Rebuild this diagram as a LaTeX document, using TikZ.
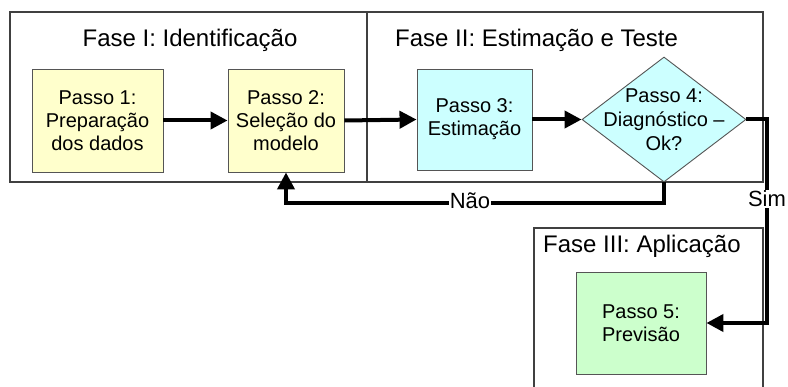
\documentclass[tikz,border=0pt]{standalone}
\usepackage{fontspec}
\setmainfont{Liberation Sans}
\usetikzlibrary{arrows.meta,shapes.geometric}
\definecolor{boxyellow}{HTML}{FFFFCC}
\definecolor{boxcyan}{HTML}{CCFFFF}
\definecolor{boxgreen}{HTML}{CCFFCC}
\definecolor{frameline}{HTML}{404040}
\definecolor{boxline}{HTML}{555555}
\tikzset{
  phaseframe/.style={draw=frameline, line width=1.1pt},
  phasetitle/.style={font=\fontsize{24}{28}\selectfont, inner sep=0pt},
  stepbox/.style={draw=boxline, line width=0.9pt, align=center, inner sep=0pt,
     font=\fontsize{20}{23}\selectfont},
  flow/.style={line width=4pt, -{Triangle[length=17pt,width=17pt]}},
  plainflow/.style={line width=4pt},
  flowlabel/.style={fill=white, inner sep=1pt, font=\fontsize{22}{24}\selectfont},
}
\begin{document}
\begin{tikzpicture}[x=1pt,y=-1pt]
\useasboundingbox (0,0) rectangle (788,387);
% phase frames
\draw[phaseframe] (10,12) rectangle (367,182);
\draw[phaseframe] (367,12) rectangle (763,182);
\draw[phaseframe] (534,390) -- (534,228) -- (763,228) -- (763,390);
\node[phasetitle] (t1) at (190,40) {Fase I: Identificação};
\node[phasetitle, anchor=west] (t2) at (395,40) {Fase II: Estimação e Teste};
\node[phasetitle, anchor=west] (t3) at (543,246) {Fase III: Aplicação};
% steps
\node[stepbox, fill=boxyellow, minimum width=131pt, minimum height=103pt] (b1) at (97.5,120.5) {Passo 1:\\Preparação\\dos dados};
\node[stepbox, fill=boxyellow, minimum width=116pt, minimum height=103pt] (b2) at (286,120.5) {Passo 2:\\Seleção do\\modelo};
\node[stepbox, fill=boxcyan, minimum width=115pt, minimum height=101pt] (b3) at (474.5,119.5) {Passo 3:\\Estimação};
\node[draw=boxline, line width=0.9pt, fill=boxcyan, diamond, inner sep=0pt, minimum width=164pt, minimum height=125pt] (d) at (664,119.5) {};
\node[align=center, inner sep=0pt, font=\fontsize{20}{24}\selectfont] (dt) at (664,120) {Passo 4:\\Diagnóstico –\\Ok?};
\node[stepbox, fill=boxgreen, minimum width=130pt, minimum height=102pt] (b5) at (641,323) {Passo 5:\\Previsão};
% connectors
\draw[flow] (b1.east) -- (b2.west);
\draw[flow] (b2.east) -- (b3.west);
\draw[flow] (b3.east) -- (d.west);
\coordinate (s1) at (767,119.5);
\coordinate (s2) at (767,323);
\draw[flow] (d.east) -- (s1) -- (s2) -- (b5.east);
\node[flowlabel] (sim) at (767,199) {Sim};
\coordinate (n1) at (664,203);
\coordinate (n2) at (286,203);
\draw[flow] (d.south) -- (n1) -- (n2) -- (b2.south);
\node[flowlabel] (nao) at (470,201) {Não};
\end{tikzpicture}
\end{document}
